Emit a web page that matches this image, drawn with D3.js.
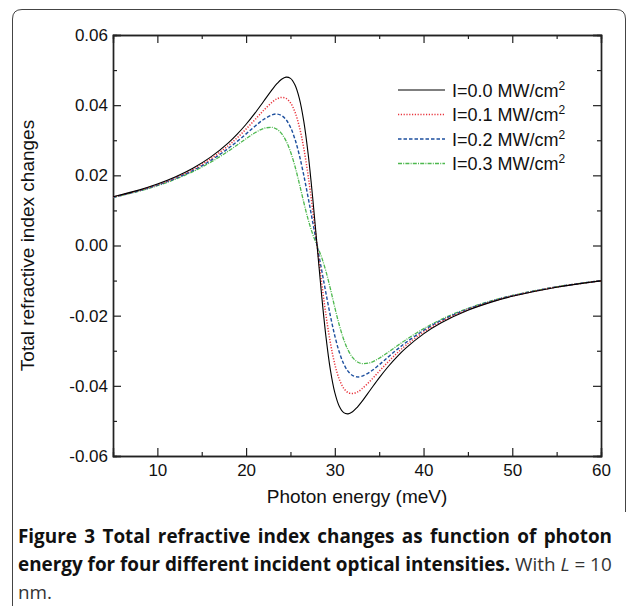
<!DOCTYPE html>
<html><head><meta charset="utf-8">
<script src="https://cdn.jsdelivr.net/npm/d3@7"></script>
<style>body{margin:0;background:#fff}svg{display:block}</style>
</head><body>
<svg id="c" width="634" height="606"></svg>
<script>
const energy = [5,8,10,12,14,16,18,19,20,21,22,23,23.5,24,24.5,25,25.5,26,26.5,27,27.5,28,28.5,29,29.5,30,30.5,31,31.5,32,32.5,33,34,35,36,37,38,40,42,45,48,50,55,60];
const dn00 = [0.01389,0.01586,0.01751,0.01952,0.02202,0.02518,0.02926,0.03174,0.03456,0.03773,0.04118,0.04464,0.04618,0.04737,0.04798,0.04763,0.04582,0.04195,0.03545,0.02599,0.01382,0,-0.01382,-0.02599,-0.03545,-0.04195,-0.04582,-0.04763,-0.04798,-0.04737,-0.04618,-0.04464,-0.04118,-0.03773,-0.03456,-0.03174,-0.02926,-0.02518,-0.02202,-0.01846,-0.01586,-0.01449,-0.01190,-0.01009];
const dn01 = [0.01381,0.01574,0.01735,0.01930,0.02170,0.02469,0.02847,0.03071,0.03319,0.03586,0.03858,0.04097,0.04182,0.04221,0.04193,0.04068,0.03810,0.03386,0.02774,0.01978,0.01031,0,-0.01031,-0.01978,-0.02774,-0.03386,-0.03810,-0.04068,-0.04193,-0.04221,-0.04182,-0.04097,-0.03858,-0.03586,-0.03319,-0.03071,-0.02847,-0.02469,-0.02170,-0.01828,-0.01574,-0.01440,-0.01185,-0.01006];
const dn02 = [0.01374,0.01563,0.01720,0.01908,0.02138,0.02421,0.02769,0.02968,0.03181,0.03399,0.03598,0.03731,0.03746,0.03705,0.03588,0.03372,0.03037,0.02576,0.02004,0.01357,0.00679,0,-0.00679,-0.01357,-0.02004,-0.02576,-0.03037,-0.03372,-0.03588,-0.03705,-0.03746,-0.03731,-0.03598,-0.03399,-0.03181,-0.02968,-0.02769,-0.02421,-0.02138,-0.01809,-0.01563,-0.01431,-0.01180,-0.01003];
const dn03 = [0.01366,0.01551,0.01704,0.01886,0.02106,0.02372,0.02690,0.02865,0.03044,0.03212,0.03338,0.03364,0.03311,0.03189,0.02983,0.02677,0.02265,0.01766,0.01233,0.00735,0.00328,0,-0.00328,-0.00735,-0.01233,-0.01766,-0.02265,-0.02677,-0.02983,-0.03189,-0.03311,-0.03364,-0.03338,-0.03212,-0.03044,-0.02865,-0.02690,-0.02372,-0.02106,-0.01791,-0.01551,-0.01423,-0.01176,-0.01000];
const seriesLabels = ["I=0.0 MW/cm", "I=0.1 MW/cm", "I=0.2 MW/cm", "I=0.3 MW/cm"];
const xTicks = [10,20,30,40,50,60];
const xMinor = [15,25,35,45,55];
const yTicks = [0.06,0.04,0.02,0.00,-0.02,-0.04,-0.06];
const yMinor = [0.05,0.03,0.01,-0.01,-0.03,-0.05];

const series = [
  {v: dn00, color: "#000000", dash: null, w: 1.1},
  {v: dn01, color: "#e8343c", dash: "1.2,1.6", w: 1.5},
  {v: dn02, color: "#1d4f9e", dash: "3.5,2", w: 1.4},
  {v: dn03, color: "#4db84e", dash: "4,1.2,1,1.2", w: 1.3}
];

const svg = d3.select("#c");
const L = 113, R = 601, T = 35, B = 456;
const x = d3.scaleLinear().domain([5,60]).range([L,R]);
const y = d3.scaleLinear().domain([-0.06,0.06]).range([B,T]);

// frame
svg.append("path")
  .attr("d", `M12.5,606 L12.5,19 Q12.5,9.5 22,9.5 L616,9.5 Q625.5,9.5 625.5,19 L625.5,512`)
  .attr("fill","none").attr("stroke","#444").attr("stroke-width",1);

const font = "Liberation Sans, Arial, Helvetica, sans-serif";
const axCol = "#222";

// axes
const gx = svg.append("g").attr("transform",`translate(0,${B})`)
  .call(d3.axisBottom(x).tickValues(xTicks).tickSize(-8).tickPadding(8).tickFormat(d3.format("d")));
const gxm = svg.append("g").attr("transform",`translate(0,${B})`)
  .call(d3.axisBottom(x).tickValues(xMinor).tickSize(-4).tickFormat(""));
const gxt = svg.append("g").attr("transform",`translate(0,${T})`)
  .call(d3.axisTop(x).tickValues(xTicks).tickSize(-8).tickFormat(""));
const gxtm = svg.append("g").attr("transform",`translate(0,${T})`)
  .call(d3.axisTop(x).tickValues(xMinor).tickSize(-4).tickFormat(""));
const gy = svg.append("g").attr("transform",`translate(${L},0)`)
  .call(d3.axisLeft(y).tickValues(yTicks).tickSize(-8).tickPadding(5).tickFormat(d3.format(".2f")));
const gym = svg.append("g").attr("transform",`translate(${L},0)`)
  .call(d3.axisLeft(y).tickValues(yMinor).tickSize(-4).tickFormat(""));
const gyr = svg.append("g").attr("transform",`translate(${R},0)`)
  .call(d3.axisRight(y).tickValues(yTicks).tickSize(-8).tickFormat(""));
const gyrm = svg.append("g").attr("transform",`translate(${R},0)`)
  .call(d3.axisRight(y).tickValues(yMinor).tickSize(-4).tickFormat(""));
[gx,gxm,gxt,gxtm,gy,gym,gyr,gyrm].forEach(g=>{
  g.select(".domain").attr("stroke",axCol).attr("stroke-width",1.4);
  g.selectAll(".tick line").attr("stroke",axCol).attr("stroke-width",1.2);
  g.selectAll(".tick text").attr("font-family",font).attr("font-size",17).attr("fill","#111");
});
gy.selectAll(".tick text").text(d=> d3.format(".2f")(d).replace("−","-"));

// curves
const line = d3.line().x((d,i)=>x(energy[i])).y(d=>y(d)).curve(d3.curveCatmullRom.alpha(0.5));
svg.append("clipPath").attr("id","pc").append("rect").attr("x",L).attr("y",T).attr("width",R-L).attr("height",B-T);
const gl = svg.append("g").attr("clip-path","url(#pc)");
series.slice().reverse().forEach(s=>{
  gl.append("path").attr("d", line(s.v)).attr("fill","none")
    .attr("stroke", s.color).attr("stroke-width", s.w)
    .attr("stroke-dasharray", s.dash);
});

// legend
const lg = svg.append("g");
const rows = [90, 114.5, 139, 163.5];
series.forEach((s,i)=>{
  lg.append("line").attr("x1",398).attr("x2",445).attr("y1",rows[i]).attr("y2",rows[i])
    .attr("stroke",s.color).attr("stroke-width",s.w).attr("stroke-dasharray",s.dash);
  const t = lg.append("text").attr("x",452).attr("y",rows[i]+6.5)
    .attr("font-family",font).attr("font-size",18).attr("fill","#111");
  t.append("tspan").text(seriesLabels[i]);
  t.append("tspan").attr("font-size",12).attr("dy",-7).text("2");
});

// axis titles
svg.append("text").attr("x",(L+R)/2).attr("y",503).attr("text-anchor","middle")
  .attr("font-family",font).attr("font-size",19).attr("fill","#111").text("Photon energy (meV)");
svg.append("text").attr("transform",`translate(34,${(T+B)/2}) rotate(-90)`).attr("text-anchor","middle")
  .attr("font-family",font).attr("font-size",19).attr("fill","#111").text("Total refractive index changes");

// caption (justified to width 594)
const cf = "Open Sans, Noto Sans, sans-serif";
const target = 594;
const c2 = svg.append("text").attr("x",18).attr("y",571).attr("font-family",cf).attr("font-size",17).attr("fill","#111");
c2.append("tspan").attr("font-weight","bold").text("energy for four different incident optical intensities.");
c2.append("tspan").attr("fill","#333").text(" With ");
c2.append("tspan").attr("fill","#333").attr("font-style","italic").text("L");
c2.append("tspan").attr("fill","#333").text(" = 10");
const fs = 17*target/c2.node().getComputedTextLength();
c2.attr("font-size",fs);
const c1 = svg.append("text").attr("x",18).attr("y",543).attr("font-family",cf).attr("font-weight","bold")
  .attr("font-size",fs).attr("fill","#111").text("Figure 3 Total refractive index changes as function of photon");
const w1 = c1.node().getComputedTextLength();
if (w1 < target) c1.attr("word-spacing", (target-w1)/9);
svg.append("text").attr("x",18).attr("y",599).attr("font-family",cf).attr("font-size",fs).attr("fill","#333").text("nm.");
</script>
</body></html>
